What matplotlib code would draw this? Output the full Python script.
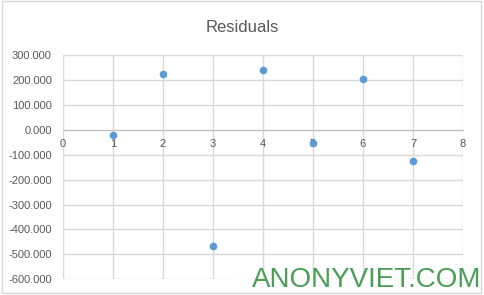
import matplotlib
matplotlib.use('Agg')
from matplotlib import pyplot as plt
from matplotlib.patches import Rectangle
from matplotlib.ticker import FuncFormatter

# data
x_values = [1, 2, 3, 4, 5, 6, 7]
residuals = [-21, 223, -465, 239, -54, 203, -125]
x_ticks = [0, 1, 2, 3, 4, 5, 6, 7, 8]
y_ticks = [300, 200, 100, 0, -100, -200, -300, -400, -500, -600]

text_color = '#595959'
grid_color = '#d9d9d9'
dot_color = '#5b9bd5'

plt.rcParams['font.family'] = ['Liberation Sans', 'DejaVu Sans']

fig = plt.figure(figsize=(4.84, 2.95), dpi=100)
ax = fig.add_axes([63 / 484, 1 - 279.3 / 295, 400 / 484, 224.3 / 295])

ax.scatter(x_values, residuals, s=30, color=dot_color, zorder=3, linewidths=0)

ax.set_xlim(min(x_ticks), max(x_ticks))
ax.set_ylim(min(y_ticks), max(y_ticks))
ax.set_xticks(x_ticks)
ax.set_yticks(y_ticks)
ax.yaxis.set_major_formatter(FuncFormatter(lambda v, p: f'{v:.3f}'))

ax.grid(True, color=grid_color, linewidth=1)
ax.set_axisbelow(True)

for side in ['top', 'right', 'left']:
    ax.spines[side].set_visible(False)
ax.spines['bottom'].set_position(('data', 0))
ax.spines['bottom'].set_color('#bfbfbf')
ax.spines['bottom'].set_zorder(2)

ax.tick_params(axis='both', length=0, labelsize=8, labelcolor=text_color)
ax.tick_params(axis='x', pad=7)
ax.tick_params(axis='y', pad=8)

fig.text(0.5, 1 - 28 / 295, 'Residuals', ha='center', va='center',
         fontsize=12, color=text_color)

# chart border
fig.patches.append(Rectangle((2 / 484, 2 / 295), 479 / 484, 292 / 295,
                             transform=fig.transFigure, fill=False,
                             edgecolor=grid_color, linewidth=1))

# watermark
fig.text(481 / 484, 2 / 295, 'ANONYVIET.COM', ha='right', va='bottom',
         fontsize=20, color='#4a9e56')

fig.savefig('out.png', dpi=100)
